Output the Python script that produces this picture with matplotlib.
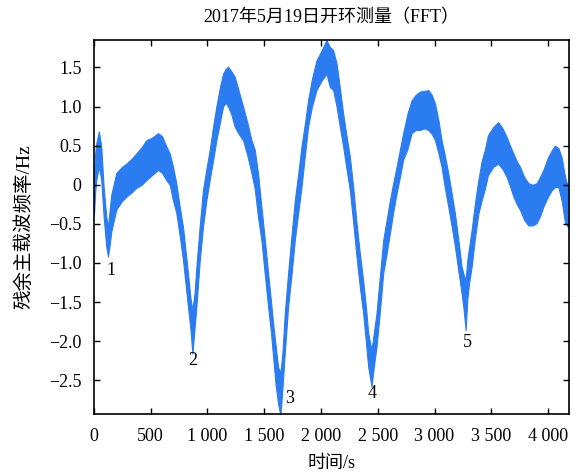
import matplotlib
matplotlib.use("Agg")
import matplotlib.pyplot as plt
from matplotlib.ticker import FuncFormatter, MultipleLocator

plt.rcParams['font.family'] = ['Liberation Serif', 'Noto Sans CJK SC']
plt.rcParams['axes.unicode_minus'] = True

# time (s), upper and lower envelope of the noisy residual-frequency trace (Hz)
t = [0, 10, 20, 43, 64, 85, 108, 123, 140, 152, 196, 240, 285, 330, 373, 420, 461, 510, 564, 600,
     637, 667, 696, 725, 755, 784, 828, 850, 867, 885, 902, 930, 960, 990, 1019, 1050, 1078, 1110,
     1137, 1160, 1181, 1210, 1240, 1275, 1313, 1350, 1387, 1416, 1445, 1475, 1505, 1534, 1560, 1578,
     1600, 1622, 1643, 1660, 1681, 1710, 1740, 1769, 1800, 1828, 1860, 1886, 1920, 1960, 2000, 2048,
     2078, 2107, 2137, 2165, 2195, 2225, 2254, 2285, 2313, 2340, 2371, 2395, 2416, 2445, 2465, 2489,
     2520, 2548, 2578, 2607, 2636, 2666, 2695, 2724, 2760, 2798, 2835, 2871, 2910, 2945, 2975, 3004,
     3035, 3062, 3090, 3121, 3150, 3180, 3210, 3239, 3257, 3274, 3290, 3305, 3327, 3355, 3386, 3415,
     3444, 3470, 3518, 3560, 3600, 3636, 3665, 3695, 3725, 3753, 3790, 3827, 3865, 3900, 3930, 3959,
     4000, 4033, 4060, 4091, 4120, 4150, 4180]
upper = [0.10, 0.40, 0.53, 0.68, 0.49, -0.03, -0.41, -0.54, -0.30, -0.13, 0.15, 0.22, 0.27, 0.33, 0.40,
         0.48, 0.57, 0.60, 0.66, 0.62, 0.49, 0.40, 0.23, 0.02, -0.28, -0.54, -1.13, -1.45, -1.60, -1.40,
         -1.05, -0.55, -0.07, 0.20, 0.44, 0.75, 1.00, 1.25, 1.42, 1.48, 1.51, 1.45, 1.38, 1.20, 1.00,
         0.80, 0.57, 0.45, 0.15, -0.28, -0.70, -1.13, -1.50, -1.77, -2.05, -2.33, -2.40, -2.15, -1.64,
         -1.13, -0.65, -0.20, 0.15, 0.49, 0.80, 1.08, 1.35, 1.59, 1.70, 1.85, 1.76, 1.72, 1.55, 1.25,
         0.91, 0.62, 0.36, -0.05, -0.49, -0.85, -1.22, -1.55, -1.90, -2.11, -1.90, -1.64, -1.15, -0.71,
         -0.45, -0.20, 0.02, 0.23, 0.45, 0.66, 0.90, 1.08, 1.15, 1.19, 1.20, 1.21, 1.15, 1.04, 0.82,
         0.57, 0.38, 0.15, -0.10, -0.37, -0.70, -1.05, -1.15, -1.22, -0.95, -0.80, -0.58, -0.25, 0.06,
         0.30, 0.45, 0.63, 0.74, 0.80, 0.72, 0.61, 0.50, 0.40, 0.30, 0.23, 0.10, 0.02, 0.00, 0.02, 0.10,
         0.19, 0.35, 0.44, 0.50, 0.47, 0.35, 0.10, -0.05]
lower = [-0.38, -0.10, 0.06, 0.23, 0.06, -0.41, -0.79, -0.92, -0.75, -0.60, -0.32, -0.22, -0.15, -0.10,
         -0.04, 0.00, 0.06, 0.12, 0.19, 0.15, 0.06, 0.00, -0.20, -0.36, -0.65, -0.96, -1.56, -1.85, -2.16,
         -1.85, -1.56, -1.00, -0.54, -0.20, 0.06, 0.32, 0.57, 0.80, 1.00, 1.05, 1.00, 0.90, 0.74, 0.65,
         0.57, 0.38, 0.15, -0.05, -0.41, -0.71, -1.15, -1.56, -1.90, -2.20, -2.55, -2.80, -2.95, -2.60,
         -2.15, -1.56, -1.15, -0.71, -0.35, -0.03, 0.40, 0.74, 1.00, 1.21, 1.32, 1.42, 1.25, 1.21, 1.00,
         0.75, 0.49, 0.20, -0.07, -0.50, -0.92, -1.28, -1.64, -2.00, -2.33, -2.58, -2.33, -2.07, -1.60,
         -1.13, -0.88, -0.62, -0.35, -0.11, 0.10, 0.32, 0.45, 0.66, 0.70, 0.70, 0.72, 0.70, 0.65, 0.57,
         0.40, 0.23, -0.03, -0.28, -0.52, -0.79, -1.10, -1.39, -1.60, -1.86, -1.45, -1.25, -1.05, -0.70,
         -0.37, -0.20, -0.05, 0.12, 0.23, 0.27, 0.20, 0.10, -0.02, -0.15, -0.25, -0.32, -0.45, -0.52,
         -0.52, -0.49, -0.40, -0.28, -0.15, -0.07, -0.03, -0.03, -0.20, -0.49, -0.55]

label_text = ['1', '2', '3', '4', '5']
label_t = [146, 867, 1725, 2454, 3292]
label_y = [-1.09, -2.24, -2.73, -2.67, -2.01]

xticks = [0, 500, 1000, 1500, 2000, 2500, 3000, 3500, 4000]

color = '#2b7cf0'

fig = plt.figure(figsize=(5.86, 4.74), dpi=100)
ax = fig.add_axes([0.1604, 0.1266, 0.8106, 0.789])
ax.fill_between(t, lower, upper, color=color, linewidth=0.8, edgecolor=color)

for s, x, y in zip(label_text, label_t, label_y):
    ax.text(x, y, s, ha='center', va='center', fontsize=13, family=['Liberation Serif'])

ax.set_xlim(0, 4185)
ax.set_ylim(-2.93, 1.85)
ax.set_xticks(xticks)
ax.xaxis.set_major_formatter(FuncFormatter(lambda v, p: f"{int(round(v)):,}".replace(",", " ")))
ax.yaxis.set_major_locator(MultipleLocator(0.5))

def yfmt(v, p):
    if abs(v) < 1e-9:
        return "0"
    return f"{v:.1f}".replace("-", "\u2212")

ax.yaxis.set_major_formatter(FuncFormatter(yfmt))
ax.tick_params(direction='in', top=True, right=True, length=4.5, width=1, labelsize=13)
ax.tick_params(axis='x', pad=10)
ax.tick_params(axis='y', pad=9)
for sp in ax.spines.values():
    sp.set_linewidth(1.2)

ax.set_title("2017年5月19日开环测量（FFT）", fontsize=13, pad=13)
ax.set_xlabel("时间/s", fontsize=13, labelpad=7)
ax.set_ylabel("残余主载波频率/Hz", fontsize=14, labelpad=11)

fig.savefig("out.png", dpi=100)
